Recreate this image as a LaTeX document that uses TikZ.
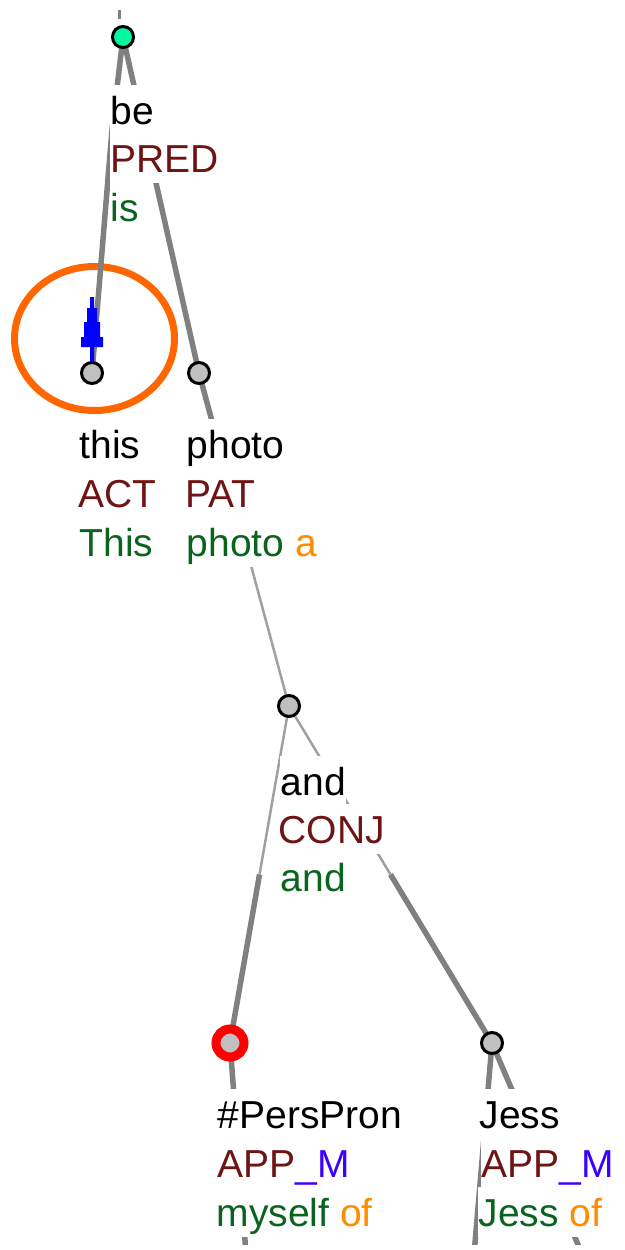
\documentclass[tikz,border=0pt]{standalone}
\usepackage{fontspec}
\setmainfont{Liberation Sans}
\usetikzlibrary{calc}
\definecolor{edgeg}{RGB}{128,128,128}
\definecolor{edgel}{RGB}{160,160,160}
\definecolor{rolec}{RGB}{110,20,20}
\definecolor{formc}{RGB}{10,100,30}
\definecolor{auxc}{RGB}{255,140,0}
\definecolor{mblue}{RGB}{60,0,255}
\definecolor{mint}{RGB}{0,250,160}
\definecolor{dotg}{RGB}{192,192,192}
\definecolor{ringc}{RGB}{255,102,0}
\begin{document}
\begin{tikzpicture}[x=1pt,y=-1pt,
  thickedge/.style={draw=edgeg,line width=5.5pt},
  thinedge/.style={draw=edgel,line width=2.5pt},
  lab/.style={anchor=base west,fill=white,inner xsep=0.5pt,inner ysep=0pt,text height=39pt,text depth=10.5pt,font=\fontsize{39}{39}\selectfont},
  wordrow/.style={lab,text=black},
  rolerow/.style={lab,text=rolec},
  formrow/.style={lab,text=formc},
  dot/.style={circle,draw=black,line width=3pt,fill=dotg,minimum size=21pt,inner sep=0pt},
]
\useasboundingbox (0,0) rectangle (624,1250);
\begin{scope}
\clip (0,0) rectangle (624,1244);
% positions of tree nodes
\coordinate (nRoot) at (123,37);
\coordinate (nThis) at (92,373);
\coordinate (nPhoto) at (199,373);
\coordinate (nAnd) at (289,706);
\coordinate (nPers) at (230,1043);
\coordinate (nJess) at (492,1043);
\coordinate (topA) at (119,10);
\coordinate (topB) at (119,19);
\coordinate (bendThis) at (112,130);
\coordinate (offPers) at (252.8,1343);
\coordinate (offJessA) at (466.5,1343);
\coordinate (offJessB) at (620,1343);
\coordinate (midPA) at ($(nPhoto)!0.5!(nAnd)$);
\coordinate (midAP) at ($(nAnd)!0.5!(nPers)$);
\coordinate (midAJ) at ($(nAnd)!0.5!(nJess)$);
% orange ring
\draw[ringc,line width=7pt] (94.5,338.5) ellipse [x radius=80pt, y radius=72pt];
% edges
\draw[draw=edgeg,line width=3pt] (topA) -- (topB);
\draw[thickedge] (nRoot) -- (bendThis) -- (nThis);
\draw[thickedge] (nRoot) -- (nPhoto);
\draw[thickedge] (nPhoto) -- (midPA);
\draw[thinedge] (midPA) -- (nAnd);
\draw[thinedge] (nAnd) -- (midAP);
\draw[thickedge] (midAP) -- (nPers);
\draw[thinedge] (nAnd) -- (midAJ);
\draw[thickedge] (midAJ) -- (nJess);
\draw[thickedge] (nPers) -- (offPers);
\draw[thickedge] (nJess) -- (offJessA);
\draw[thickedge] (nJess) -- (offJessB);
% labels
\node[wordrow] (beW) at (110,124) {be};
\node[rolerow] (beR) at (110,172) {PRED};
\node[formrow] (beF) at (110,221) {is};
\node[wordrow] (thisW) at (79,458) {this};
\node[rolerow] (thisR) at (78,507) {ACT};
\node[formrow] (thisF) at (79,556) {This};
\node[wordrow] (photoW) at (186,458) {photo};
\node[rolerow] (photoR) at (185,507) {PAT};
\node[formrow] (photoF) at (186,556) {photo \textcolor{auxc}{a}};
\node[wordrow] (andW) at (280,795) {and};
\node[rolerow] (andR) at (278,843) {CONJ};
\node[formrow] (andF) at (280,891) {and};
\node[wordrow] (persW) at (217,1128) {\#PersPron};
\node[rolerow] (persR) at (217,1177) {APP\textcolor{mblue}{\_M}};
\node[formrow] (persF) at (216,1226) {myself \textcolor{auxc}{of}};
\node[wordrow] (jessW) at (479,1128) {Jess};
\node[rolerow] (jessR) at (481,1177) {APP\textcolor{mblue}{\_M}};
\node[formrow] (jessF) at (478,1226) {Jess \textcolor{auxc}{of}};
% tree node dots
\node[dot,fill=mint] (dRoot) at (nRoot) {};
\node[dot] (dThis) at (nThis) {};
\node[dot] (dPhoto) at (nPhoto) {};
\node[dot] (dAnd) at (nAnd) {};
\node[dot,draw=red,line width=9pt,minimum size=28pt] (dPers) at (nPers) {};
\node[dot] (dJess) at (nJess) {};
% blue arrow on edge this -> be
\fill[blue,shift={(nThis)}]
  (-2,-76) -- (2,-76) -- (2,-65) -- (5,-65) -- (5,-51) -- (8,-51) -- (8,-36) -- (11,-36) -- (11,-26)
  -- (2,-26) -- (2,-11) -- (-2,-11) -- (-2,-26)
  -- (-11,-26) -- (-11,-36) -- (-8,-36) -- (-8,-51) -- (-5,-51) -- (-5,-65) -- (-2,-65) -- cycle;
\end{scope}
\end{tikzpicture}
\end{document}
